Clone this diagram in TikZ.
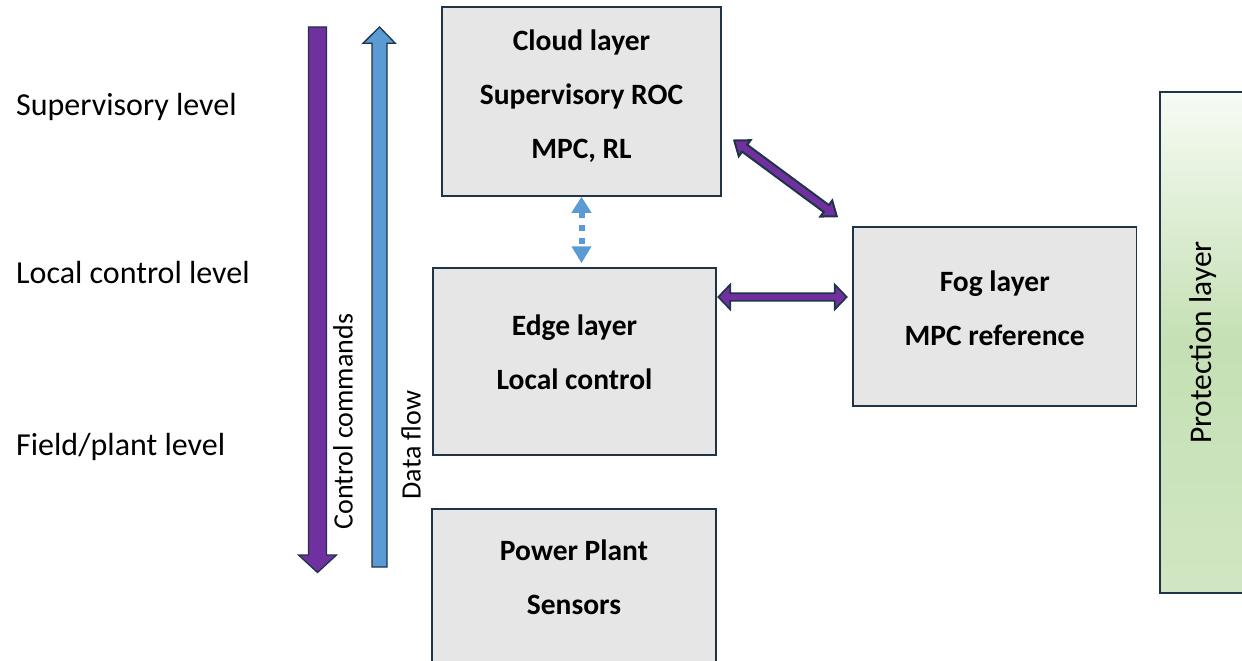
\documentclass[tikz,border=0pt]{standalone}
\usepackage{fontspec}
\setmainfont{Carlito}
\usetikzlibrary{arrows.meta,calc}

\definecolor{edgeclr}{HTML}{1F3447}
\definecolor{boxgray}{HTML}{E7E6E6}
\definecolor{cmdpurple}{HTML}{7030A0}
\definecolor{flowblue}{HTML}{5B9BD5}
\definecolor{protgreen}{HTML}{C5E0B4}
\definecolor{protlight}{HTML}{F7FBF4}

% double-headed block arrow between two named points:
% #1 start, #2 end, #3 half shaft width, #4 half head width, #5 head length,
% #6 outline width
\newcommand\dblblockarrow[6]{%
  \coordinate (ba1) at ($(#1)!#5!(#2)$);
  \coordinate (ba2) at ($(#2)!#5!(#1)$);
  \filldraw[blockarrow, line width=#6]
    (#1) -- ($(ba1)!#4!90:(#2)$) -- ($(ba1)!#3!90:(#2)$)
    -- ($(ba2)!#3!-90:(#1)$) -- ($(ba2)!#4!-90:(#1)$)
    -- (#2) -- ($(ba2)!#4!90:(#1)$) -- ($(ba2)!#3!90:(#1)$)
    -- ($(ba1)!#3!-90:(#2)$) -- ($(ba1)!#4!-90:(#2)$) -- cycle;}

\begin{document}
\begin{tikzpicture}[x=1pt,y=-1pt,
  layerbox/.style={draw=edgeclr, fill=boxgray, line width=1.5pt,
    rectangle, inner sep=0pt},
  boxtext/.style={font=\fontsize{29.5}{54}\selectfont\bfseries,
    align=center, inner sep=0pt},
  levellabel/.style={font=\fontsize{32}{36}\selectfont,
    anchor=base west, inner sep=0pt},
  sidetext/.style={font=\fontsize{28}{32}\selectfont, rotate=90,
    inner sep=0pt},
  blockarrow/.style={draw=edgeclr, fill=cmdpurple, line join=miter},
  dotflow/.style={draw=flowblue, line width=6pt, dash pattern=on 6pt off 7pt,
    {Triangle[length=16pt,width=19pt]}-{Triangle[length=17pt,width=19pt]}}
]
\useasboundingbox (0,0) rectangle (1242,661);

% level labels
\node[levellabel] (lsup) at (16,115) {Supervisory level};
\node[levellabel] (lloc) at (16,283.3) {Local control level};
\node[levellabel] (lfld) at (16,455) {Field/plant level};

% control commands (down) and data flow (up)
\filldraw[draw=edgeclr, fill=cmdpurple, line width=1.3pt]
  (308.5,27) -- (326.5,27) -- (326.5,555) -- (336.5,555) -- (317.5,572.5)
  -- (298.5,555) -- (308.5,555) -- cycle;
\filldraw[draw=edgeclr, fill=flowblue, line width=1.3pt]
  (372,567) -- (387,567) -- (387,43.3) -- (395.3,43.3) -- (379.5,27)
  -- (363,43.3) -- (372,43.3) -- cycle;
\node[sidetext] (cmdtxt) at (343,421.5) {Control commands};
\node[sidetext] (flowtxt) at (411,445) {Data flow};

% protection layer
\shade[top color=protlight, bottom color=protgreen!80!white,
  middle color=protgreen, draw=edgeclr, line width=1.5pt]
  (1160,92) rectangle (1252,593);
\node[sidetext, font=\fontsize{31.5}{36}\selectfont] (prot) at (1203,342.5)
  {Protection layer};

% layer boxes
\node[layerbox, minimum width=279pt, minimum height=189pt] (cloud)
  at (581.5,101.5) {};
\node[layerbox, minimum width=283pt, minimum height=187pt] (edge)
  at (574.5,361.5) {};
\node[layerbox, minimum width=284pt, minimum height=156pt] (plant)
  at (574,587) {};
\node[layerbox, minimum width=283.5pt, minimum height=179pt] (fog)
  at (994.75,316.5) {};

\node[boxtext] at (581.5,96) {Cloud layer\\Supervisory ROC\\MPC, RL};
\node[boxtext] at (574.5,352.5) {Edge layer\\Local control};
\node[boxtext] at (574,577.5) {Power Plant\\Sensors};
\node[boxtext] at (994.75,308) {Fog layer\\MPC reference};

% connectors between layers
\draw[dotflow] (cloud.south) -- ($(cloud.south |- edge.north)+(0,-4)$);

\coordinate (cfA) at ($(cloud.east)+(12.5,39)$);
\coordinate (cfB) at ($(fog.north west)+(-15.5,-10)$);
\dblblockarrow{cfA}{cfB}{4.3pt}{10pt}{13pt}{2pt}

\coordinate (efA) at ($(edge.east)+(1.5,-64.5)$);
\coordinate (efB) at ($(fog.west)+(-5.5,-19.5)$);
\dblblockarrow{efA}{efB}{3.8pt}{12.5pt}{12pt}{1.6pt}
\end{tikzpicture}
\end{document}
